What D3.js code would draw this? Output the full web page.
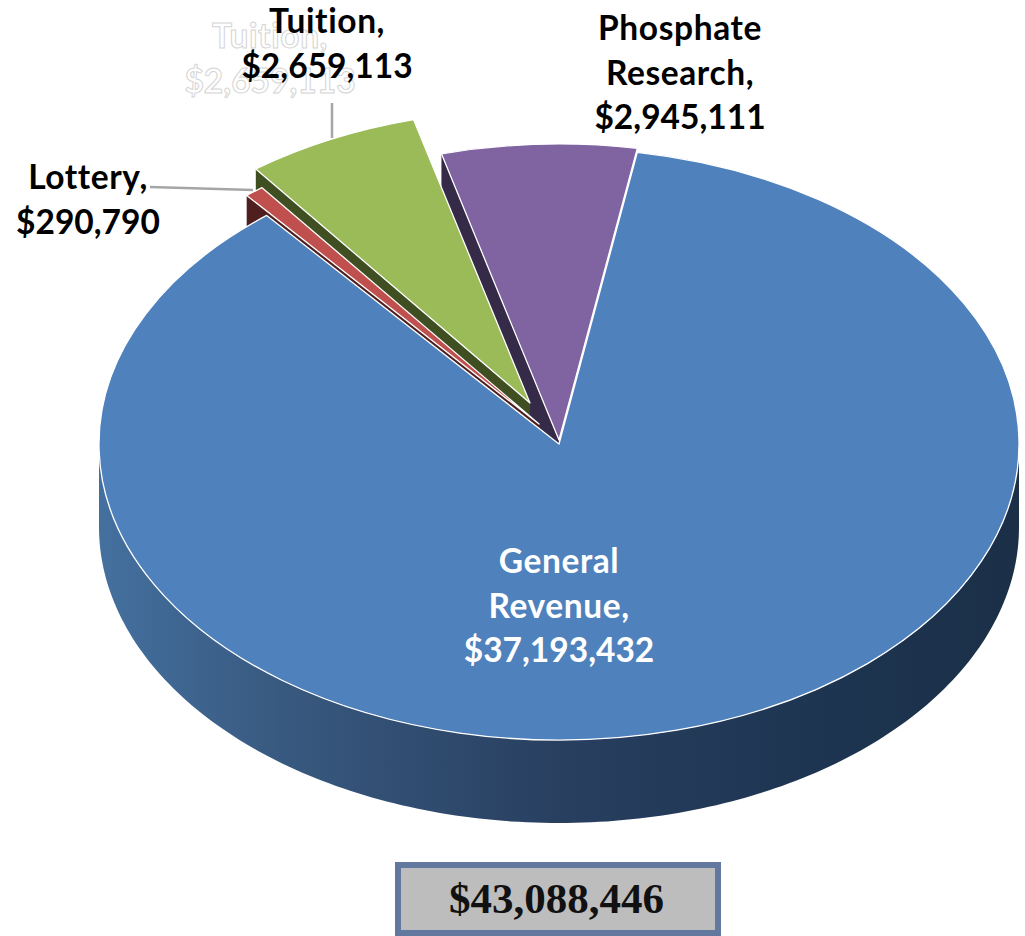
<!DOCTYPE html>
<html><head><meta charset="utf-8">
<script src="https://cdn.jsdelivr.net/npm/d3@7/dist/d3.min.js"></script>
<style>html,body{margin:0;padding:0;background:#fff;overflow:hidden}svg{display:block}</style>
</head><body><svg id="c" width="1025" height="936"></svg>
<script>
const categories = ["General Revenue", "Lottery", "Tuition", "Phosphate Research"];
const values = [37193432, 290790, 2659113, 2945111];
const topColors = ["#4f81bd", "#c0504d", "#9bbb59", "#8064a2"];
const wallColors = ["url(#wall)", "#4f1f1f", "#3f4f22", "#352a47"];
const explodeX = [0, -20, -29, 0];
const explodeY = [0, -20, -41, -4];
const radiusK = [1, 1, 0.99, 1];
const labelLines = [["General", "Revenue,"], ["Lottery,"], ["Tuition,"], ["Phosphate", "Research,"]];
const labelX = [559, 88, 327, 680];
const labelY = [573, 189, 33, 40];

const W = 1025, H = 936, cx = 559, cy = 444, rx = 460, ry = 296, depth = 83, lh = 44.7;
const squash = ry / rx, rad = d => d * Math.PI / 180, startDeg = 9.8;
const svg = d3.select("#c");
const money = d3.format("$,");
const font = "Lato, Carlito, sans-serif";

const defs = svg.append("defs");
const g = defs.append("linearGradient").attr("id", "wall").attr("gradientUnits", "userSpaceOnUse")
  .attr("x1", cx - rx).attr("x2", cx + rx).attr("y1", 0).attr("y2", 0);
[[0, "#44709f"], [.2, "#38597f"], [.5, "#283f60"], [.78, "#1d3551"], [1, "#1b2f47"]]
  .forEach(([o, c]) => g.append("stop").attr("offset", o).attr("stop-color", c));

const arcs = d3.pie().sort(null).value(d => d)
  .startAngle(rad(startDeg)).endAngle(rad(startDeg + 360))(values);
const px = (a, i) => cx + explodeX[i] + rx * radiusK[i] * Math.sin(a);
const py = (a, i) => cy + explodeY[i] - ry * radiusK[i] * Math.cos(a);

// background → foreground: phosphate, tuition, lottery, then the main slice
[3, 2, 1, 0].forEach(i => {
  const d = arcs[i], tipX = cx + explodeX[i], tipY = cy + explodeY[i];
  const arc = d3.arc().innerRadius(0).outerRadius(rx * radiusK[i]);
  if (i === 0) {
    const area = d3.area().x(a => px(a, 0)).y0(a => py(a, 0)).y1(a => py(a, 0) + depth);
    const ang = d3.scaleLinear().domain([0, 180]).range([rad(90), rad(270)]);
    svg.append("path").attr("d", area(d3.range(181).map(ang))).attr("fill", wallColors[0]);
  } else {
    // the radial wall on the slice's leading (left) edge
    const a = d.startAngle;
    const pts = [[px(a, i), py(a, i)], [tipX, tipY], [tipX, tipY + depth], [px(a, i), py(a, i) + depth]];
    svg.append("path").attr("d", d3.line()(pts) + "Z").attr("fill", wallColors[i]);
  }
  svg.append("g").attr("transform", `translate(${tipX},${tipY}) scale(1,${squash})`)
    .append("path").attr("d", arc(d)).attr("fill", topColors[i])
    .attr("stroke", "#fff").attr("stroke-width", 1.3).attr("stroke-linejoin", "round")
    .attr("vector-effect", "non-scaling-stroke");
});

// leader lines
const leaders = [[[150, 187], [253, 190]], [[332, 103], [332, 138]]];
leaders.forEach(l => svg.append("path").attr("d", d3.line()(l)).attr("stroke", "#a6a6a6").attr("stroke-width", 2.5).attr("fill", "none"));

// labels
function block(x, y, lines, attrs) {
  const t = svg.append("text").attr("text-anchor", "middle").attr("font-family", font)
    .attr("font-weight", 700).attr("font-size", 33.5);
  Object.entries(attrs).forEach(([k, v]) => t.attr(k, v));
  lines.forEach((s, j) => t.append("tspan").attr("x", x).attr("y", y + j * lh)
    .attr("letter-spacing", s[0] === "$" ? 0 : 0.6).text(s));
}
// white outlined ghost of the tuition label, behind the black one
block(270, 48, [...labelLines[2], money(values[2])], { fill: "#fff", stroke: "#d4d4d4", "stroke-width": 1 });
categories.forEach((c, i) => block(labelX[i], labelY[i], [...labelLines[i], money(values[i])],
  { fill: i === 0 ? "#fff" : "#000" }));

// total box
const total = d3.sum(values);
svg.append("rect").attr("x", 398).attr("y", 865).attr("width", 320).attr("height", 68)
  .attr("fill", "#bdbdbd").attr("stroke", "#62789f").attr("stroke-width", 6);
svg.append("text").attr("x", 556.5).attr("y", 913).attr("text-anchor", "middle")
  .attr("font-family", "'Liberation Serif', serif").attr("font-weight", 700).attr("font-size", 43)
  .attr("fill", "#111").text(money(total));
</script></body></html>
